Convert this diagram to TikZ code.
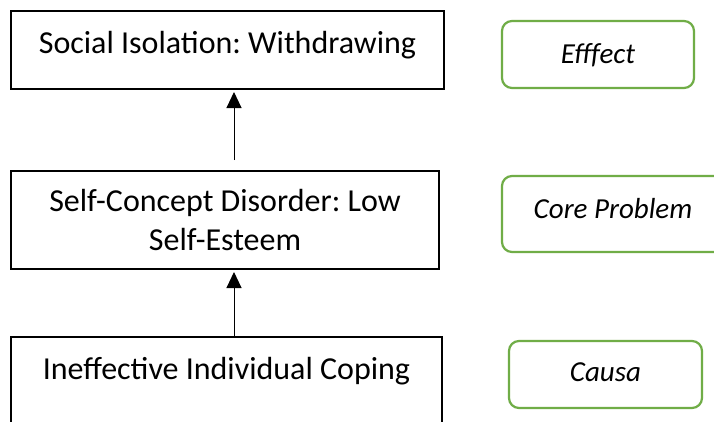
\documentclass[tikz,border=0pt]{standalone}
\usepackage{fontspec}
\setmainfont{Carlito}
\usetikzlibrary{arrows.meta}
\definecolor{offgreen}{HTML}{70AD47}
\frenchspacing
\begin{document}
\begin{tikzpicture}[x=1pt,y=-1pt,
  blackbox/.style={draw=black,line width=2pt,minimum width=#1,inner sep=0pt,rectangle},
  greenbox/.style={draw=offgreen,line width=2.2pt,rounded corners=10pt,inner sep=0pt,rectangle},
  boxtext/.style={anchor=base,inner sep=0pt,font=\fontsize{32}{38.5}\selectfont,align=center},
  labtext/.style={anchor=base,inner sep=0pt,font=\fontsize{29}{34}\selectfont\itshape},
  arr/.style={line width=1pt,-{Triangle[width=15pt,length=16pt]}}]
\useasboundingbox (0,0) rectangle (714,421);
\clip (0,0) rectangle (714,421);
\fill[white] (0,0) rectangle (714,421);
% black boxes
\node[blackbox=433pt,minimum height=78pt] (b1) at (227.5,50) {};
\node[blackbox=428pt,minimum height=98pt] (b2) at (225,220) {};
\node[blackbox=431pt,minimum height=103pt] (b3) at (226.5,388.5) {};
\node[boxtext] (t1) at (227.5,53) {Social Isolation: Withdrawing};
\node[boxtext] (t2) at (225,250) {Self-Concept Disorder: Low\\Self-Esteem};
\node[boxtext] (t3) at (226.5,379) {Ineffective Individual Coping};
% green boxes
\node[greenbox,minimum width=192pt,minimum height=67pt] (g1) at (598,54.5) {};
\node[greenbox,minimum width=228pt,minimum height=76pt] (g2) at (616,214) {};
\node[greenbox,minimum width=193pt,minimum height=67pt] (g3) at (605.5,374.5) {};
\node[labtext] (l1) at (598,63) {Efffect};
\node[labtext] (l2) at (613,218) {Core Problem};
\node[labtext] (l3) at (605.5,381) {Causa};
% arrows
\coordinate (a1s) at (234,160);
\draw[arr] (a1s) -- ([yshift=-2pt]b1.south -| a1s);
\draw[arr] (b3.north -| a1s) -- ([yshift=-2pt]b2.south -| a1s);
\end{tikzpicture}
\end{document}
